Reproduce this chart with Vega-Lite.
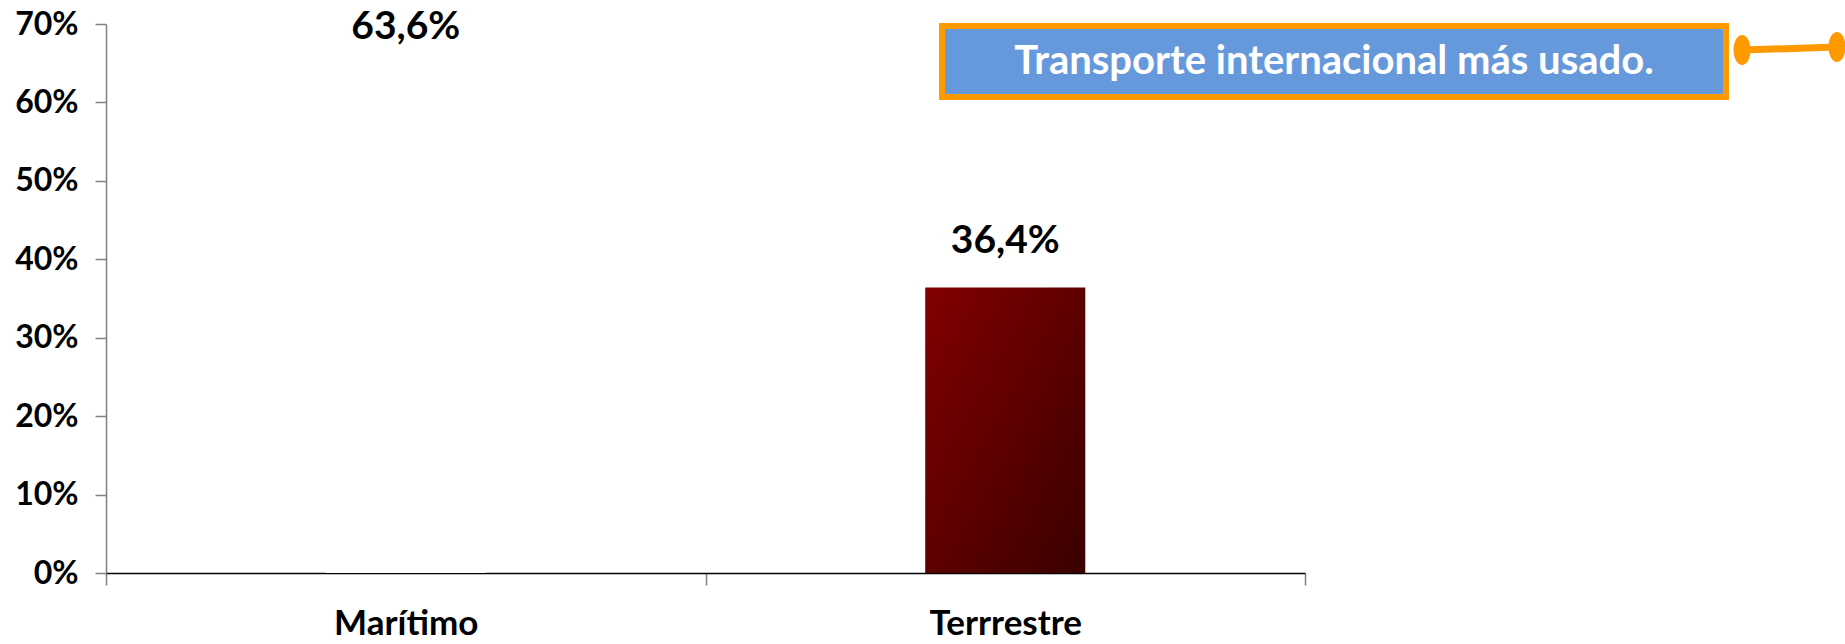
{
  "$schema": "https://vega.github.io/schema/vega-lite/v6.json",
  "autosize": {"type": "none"},
  "padding": {"left": 106, "top": 24, "right": 540, "bottom": 71},
  "width": 1199,
  "height": 549,
  "background": "white",
  "config": {
    "view": {"stroke": null},
    "locale": {"number": {"decimal": ",", "thousands": ".", "grouping": [3], "currency": ["", " €"]}}
  },
  "datasets": {
    "bars": [
      {"transporte": "Marítimo", "valor": 0.636},
      {"transporte": "Terrrestre", "valor": 0.364}
    ],
    "box": [{"x": 0.6973, "x2": 1.3511, "y": 0.6975, "y2": 0.6069, "xt": 1.0242, "yt": 0.6515, "texto": "Transporte internacional más usado."}],
    "connector": [{"x": 1.3645, "x2": 1.4437, "y": 0.6668, "y2": 0.6707}],
    "dots": [{"x": 1.3645, "y": 0.6668}, {"x": 1.4437, "y": 0.6707}]
  },
  "layer": [
    {
      "layer": [
        {
          "data": {"name": "bars"},
          "transform": [{"filter": "datum.transporte === 'Marítimo'"}],
          "mark": {"type": "bar", "width": {"band": 0.267}, "color": "white"},
          "encoding": {
            "x": {"field": "transporte", "type": "nominal", "sort": null, "scale": {"paddingInner": 0, "paddingOuter": 0},
              "axis": {"title": null, "labelAngle": 0, "tickBand": "extent", "tickSize": 12, "tickColor": "#808080", "tickWidth": 1.5,
                "domainColor": "black", "domainWidth": 1.5, "labelFont": "Lato", "labelFontWeight": "bold", "labelFontSize": 35,
                "labelColor": "black", "labelBaseline": "alphabetic", "labelPadding": 49}},
            "y": {"field": "valor", "type": "quantitative", "scale": {"domain": [0, 0.7], "nice": false},
              "axis": {"title": null, "values": [0, 0.1, 0.2, 0.3, 0.4, 0.5, 0.6, 0.7], "format": ".0%", "grid": false,
                "tickSize": 11, "tickColor": "#808080", "tickWidth": 1.5, "domainColor": "#808080", "domainWidth": 1.5,
                "labelFont": "Lato", "labelFontWeight": "bold", "labelFontSize": 32, "labelColor": "black", "labelPadding": 17}}
          }
        },
        {
          "data": {"name": "bars"},
          "transform": [{"filter": "datum.transporte === 'Terrrestre'"}],
          "mark": {"type": "bar", "width": {"band": 0.267},
            "color": {"gradient": "linear", "x1": 0, "y1": 0, "x2": 1, "y2": 1,
              "stops": [{"offset": 0, "color": "#820000"}, {"offset": 1, "color": "#3a0000"}]}},
          "encoding": {
            "x": {"field": "transporte", "type": "nominal", "sort": null},
            "y": {"field": "valor", "type": "quantitative"}
          }
        },
        {
          "data": {"name": "bars"},
          "mark": {"type": "text", "dy": -35, "baseline": "alphabetic", "font": "Lato", "fontWeight": "bold", "fontSize": 39, "color": "black"},
          "encoding": {
            "x": {"field": "transporte", "type": "nominal", "sort": null},
            "y": {"field": "valor", "type": "quantitative"},
            "text": {"field": "valor", "type": "quantitative", "format": ".1%"}
          }
        }
      ]
    },
    {
      "layer": [
        {
          "data": {"name": "box"},
          "mark": {"type": "rect", "fill": "#6699DB", "stroke": "#FF9900", "strokeWidth": 6, "clip": false},
          "encoding": {
            "x": {"field": "x", "type": "quantitative", "scale": {"domain": [0, 1], "nice": false, "zero": false}, "axis": null},
            "x2": {"field": "x2"},
            "y": {"field": "y", "type": "quantitative"},
            "y2": {"field": "y2"}
          }
        },
        {
          "data": {"name": "box"},
          "mark": {"type": "text", "font": "Lato", "fontWeight": "bold", "fontSize": 40, "color": "white", "align": "center", "baseline": "middle", "clip": false},
          "encoding": {
            "x": {"field": "xt", "type": "quantitative"},
            "y": {"field": "yt", "type": "quantitative"},
            "text": {"field": "texto", "type": "nominal"}
          }
        },
        {
          "data": {"name": "connector"},
          "mark": {"type": "rule", "color": "#FF9900", "strokeWidth": 7, "clip": false},
          "encoding": {
            "x": {"field": "x", "type": "quantitative"},
            "x2": {"field": "x2"},
            "y": {"field": "y", "type": "quantitative"},
            "y2": {"field": "y2"}
          }
        },
        {
          "data": {"name": "dots"},
          "mark": {"type": "point", "filled": true, "color": "#FF9900", "opacity": 1, "size": 900, "clip": false,
            "shape": "M0,-1 A0.567,1 0 1,1 0,1 A0.567,1 0 1,1 0,-1 Z"},
          "encoding": {
            "x": {"field": "x", "type": "quantitative"},
            "y": {"field": "y", "type": "quantitative"}
          }
        }
      ]
    }
  ],
  "resolve": {"scale": {"x": "independent"}, "axis": {"x": "independent"}}
}
